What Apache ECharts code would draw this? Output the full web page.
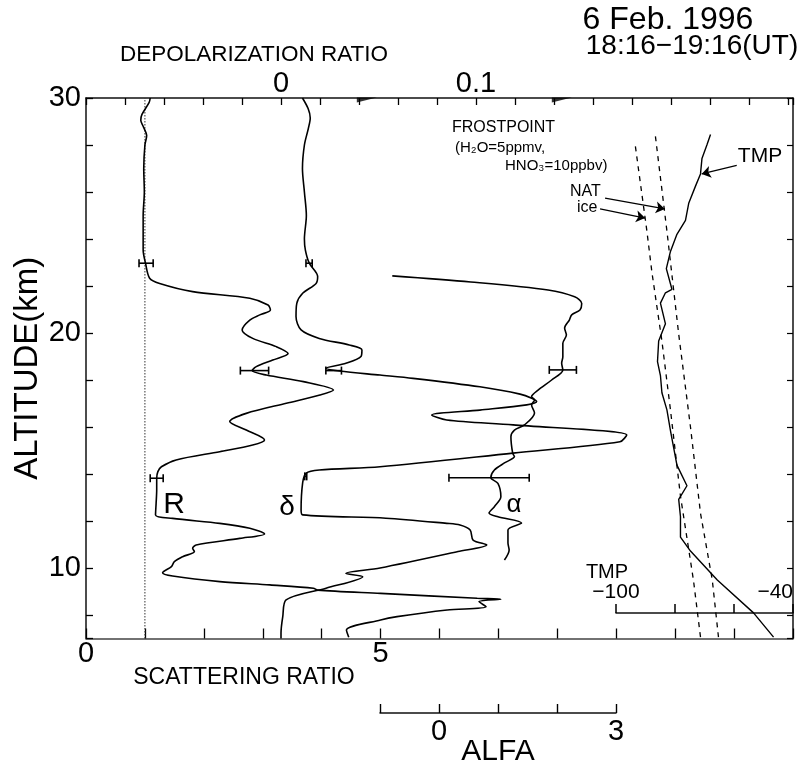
<!DOCTYPE html>
<html><head><meta charset="utf-8">
<script src="https://cdn.jsdelivr.net/npm/echarts@6/dist/echarts.min.js"></script>
<style>html,body{margin:0;padding:0;background:#fff}#chart{width:798px;height:767px}</style>
</head><body><div id="chart"></div>
<script>
const FONT = '"Liberation Sans", Arial, Helvetica, sans-serif';

// ---- axis ranges / tick labels ----
const altRange = [7, 30];
const altLabels = [10, 20, 30];
const srRange = [0, 12];
const srLabels = [0, 5];
const depolRange = [-0.1, 0.26256];
const depolLabels = [0, 0.1];
const alfaHiddenRange = [-5.98, 6.0];
const alfaRange = [-1, 3];
const alfaLabels = [0, 3];
const tmpHiddenRange = [-280, -40];
const tmpRange = [-100, -40];
const tmpLabels = [-100, -40];
const srReference = 1;

// ---- profiles: [value, altitude km] ----
const scatteringRatio = [
  [1.09,30.0],[1.07,29.8],[0.95,29.3],[0.93,29.05],[0.97,28.8],[1.03,28.4],[1.00,28.0],[0.98,27.0],
  [0.99,26.0],[0.97,25.0],[0.97,24.0],[0.97,23.53],[1.01,22.97],[1.08,22.33],[1.25,22.11],[1.81,21.76],
  [2.78,21.48],[3.09,21.19],[3.13,20.98],[2.95,20.77],[2.78,20.55],[2.65,20.13],[2.83,19.77],[3.23,19.42],
  [3.43,19.13],[3.17,18.85],[2.89,18.57],[2.82,18.40],[3.06,18.21],[3.69,17.93],[4.20,17.57],[3.97,17.36],
  [3.40,17.01],[2.72,16.58],[2.44,16.23],[2.72,15.87],[3.03,15.45],[2.83,15.23],[2.27,14.95],[1.53,14.60],
  [1.28,14.31],[1.22,14.10],[1.20,13.82],[1.20,13.32],[1.19,12.75],[1.18,12.26],[1.47,12.11],[2.27,11.90],
  [2.78,11.69],[3.03,11.45],[2.61,11.26],[1.87,10.98],[1.81,10.84],[1.84,10.70],[1.64,10.48],[1.50,10.27],
  [1.45,10.06],[1.30,9.80],[1.47,9.66],[2.27,9.42],[3.12,9.28],[3.86,9.14],[3.93,9.06],[5.0,8.92],
  [6.64,8.71],[7.04,8.67],[6.67,8.57],[6.79,8.35],[6.13,8.21],[5.28,7.93],[5.0,7.79],[4.42,7.36],[4.46,7.05]
];
const depolarization = [
  [0.011,30.0],[0.0139,29.55],[0.015,29.15],[0.014,28.7],[0.012,28.0],[0.011,27.0],[0.012,26.0],[0.013,25.0],
  [0.012,24.0],[0.0125,23.53],[0.0145,22.97],[0.0188,22.40],[0.018,22.11],[0.0111,21.69],[0.0081,21.26],
  [0.0077,20.70],[0.0103,20.13],[0.0196,19.77],[0.035,19.49],[0.0415,19.28],[0.041,19.00],[0.0333,18.71],
  [0.0231,18.50],[0.030,18.38],[0.0508,18.21],[0.0677,18.07],[0.102,17.71],[0.1226,17.40],[0.1286,17.22],
  [0.1311,17.08],[0.126,16.94],[0.102,16.72],[0.0773,16.51],[0.085,16.30],[0.119,16.09],[0.1773,15.66],
  [0.1738,15.37],[0.119,14.89],[0.0508,14.31],[0.0196,14.17],[0.0128,14.03],[0.0111,13.62],[0.0103,12.47],
  [0.0111,12.26],[0.0538,12.12],[0.085,11.90],[0.0918,11.83],[0.097,11.62],[0.0985,11.19],[0.1055,10.98],
  [0.0908,10.70],[0.0508,10.0],[0.0333,9.77],[0.0419,9.63],[0.0231,9.14],[0.0026,8.64],[0.0009,7.93],
  [0.0,7.23],[0.0,7.0]
];
const alfa = [
  [-0.79,22.43],[0.54,22.17],[1.85,21.83],[2.30,21.54],[2.42,21.26],[2.39,20.98],[2.25,20.77],[2.21,20.55],
  [2.13,20.21],[2.16,19.91],[2.10,19.56],[2.10,18.99],[2.08,18.71],[2.10,18.43],[1.91,18.0],[1.68,17.57],
  [1.57,17.29],[1.62,17.15],[1.57,16.94],[1.62,16.60],[1.45,16.09],[1.28,15.87],[1.22,15.59],[1.25,14.89],
  [1.28,14.74],[1.11,14.47],[0.94,14.17],[0.88,13.84],[1.00,13.60],[1.05,13.03],[0.94,12.61],[0.85,12.34],
  [1.00,12.18],[1.40,11.91],[1.17,11.62],[1.17,11.06],[1.19,10.77],[1.11,10.34]
];
const temperature = [
  [-68.0,28.45],[-69.2,28.01],[-70.9,27.43],[-71.4,26.77],[-73.1,26.25],[-75.4,25.52],[-76.5,24.79],
  [-79.4,24.20],[-81.6,23.47],[-83.0,22.74],[-81.1,21.86],[-83.3,21.71],[-85.0,21.27],[-83.3,20.39],
  [-85.6,19.66],[-86.0,18.78],[-85.0,18.19],[-84.5,17.46],[-82.8,16.73],[-81.6,15.85],[-80.5,15.11],
  [-79.4,14.38],[-76.0,13.50],[-78.8,12.92],[-78.2,12.18],[-78.2,11.31],[-74.8,10.72],[-65.7,9.49],
  [-53.4,8.09],[-46.6,7.06]
];
const frostIce = [[-93.5,27.94],[-89.6,24.34],[-87.9,22.59],[-84.5,19.66],[-81.6,16.73],[-78.2,13.06],[-73.8,9.49],[-71.4,7.06]];
const frostNAT = [[-86.7,28.37],[-82.8,24.34],[-78.8,19.95],[-74.8,16.0],[-71.4,12.33],[-67.4,9.49],[-65.3,7.06]];

// ---- error bars: [low, high, altitude] ----
const errR = [[0.90,1.14,22.97],[2.62,3.10,18.40],[1.09,1.31,13.82]];
const errDepol = [[0.0128,0.0160,22.97],[0.023,0.031,18.40],[0.0122,0.0132,13.90]];
const errAlfa = [[1.87,2.33,18.43],[0.17,1.53,13.84]];

// ---- annotation arrows (TMP axis units, altitude) ----
const arrowNotes = [
  [[-103.8,25.74],[-83.5,25.28]],
  [[-105.5,25.28],[-90.2,24.89]],
  [[-59.1,27.13],[-71.0,26.77]]
];
// markers on top axis (depolarization units)
const topMarkers = [[0.044,29.92],[0.144,29.92]];

function pickLabel(list, fmt) {
  return function (v) {
    for (const t of list) if (Math.abs(v - t) < 1e-6) return fmt ? fmt(t) : String(t);
    return '';
  };
}
function errorBar(params, api) {
  const y = api.value(2);
  const a = api.coord([api.value(0), y]);
  const b = api.coord([api.value(1), y]);
  const cap = 4;
  const st = { stroke: '#000', lineWidth: 1.6 };
  return { type: 'group', children: [
    { type: 'line', shape: { x1: a[0], y1: a[1], x2: b[0], y2: b[1] }, style: st },
    { type: 'line', shape: { x1: a[0], y1: a[1] - cap, x2: a[0], y2: a[1] + cap }, style: st },
    { type: 'line', shape: { x1: b[0], y1: b[1] - cap, x2: b[0], y2: b[1] + cap }, style: st }
  ]};
}
const axLine = { show: true, onZero: false, lineStyle: { color: '#111', width: 1.5 } };
const lbl = (extra) => Object.assign({ color: '#000', fontFamily: FONT, fontSize: 29 }, extra);
const line = (w) => ({ color: '#000', width: w || 1.4 });

function txt(x, y, text, size, align, extra) {
  return Object.assign({ type: 'text', x: x, y: y, silent: true, style: {
    text: text, fontSize: size, fontFamily: FONT, fill: '#000',
    textAlign: align || 'center', align: align || 'center',
    textVerticalAlign: 'middle', verticalAlign: 'middle' } }, extra || {});
}

const chart = echarts.init(document.getElementById('chart'), null, { renderer: 'canvas' });
chart.setOption({
  animation: false,
  backgroundColor: '#fff',
  textStyle: { fontFamily: FONT },
  grid: [
    { left: 86, top: 98, width: 707, height: 540.5, outerBoundsMode: 'none', containLabel: false },
    { left: 380, top: 700, width: 236, height: 13, outerBoundsMode: 'none', containLabel: false },
    { left: 616, top: 613, width: 177, height: 10, outerBoundsMode: 'none', containLabel: false }
  ],
  xAxis: [
    { gridIndex: 0, type: 'value', position: 'bottom', min: srRange[0], max: srRange[1], interval: 1,
      axisLine: { show: true, onZero: false, lineStyle: { color: '#444', width: 1.5 } },
      axisTick: { show: true, inside: true, length: 10, lineStyle: line(1.3) },
      axisLabel: lbl({ margin: 1, formatter: pickLabel(srLabels) }), splitLine: { show: false } },
    { gridIndex: 0, type: 'value', position: 'top', min: depolRange[0], max: depolRange[1], interval: 0.02,
      axisLine: axLine, axisTick: { show: true, inside: true, length: 7, lineStyle: line(1.3) },
      axisLabel: lbl({ margin: 0, formatter: pickLabel(depolLabels) }), splitLine: { show: false } },
    { gridIndex: 0, type: 'value', position: 'bottom', min: alfaHiddenRange[0], max: alfaHiddenRange[1], show: false },
    { gridIndex: 0, type: 'value', position: 'top', min: tmpHiddenRange[0], max: tmpHiddenRange[1], show: false },
    { gridIndex: 1, type: 'value', position: 'bottom', min: alfaRange[0], max: alfaRange[1], interval: 1,
      axisLine: axLine, axisTick: { show: true, inside: true, length: 9, lineStyle: line(1.4) },
      axisLabel: lbl({ margin: 4, formatter: pickLabel(alfaLabels) }), splitLine: { show: false } },
    { gridIndex: 2, type: 'value', position: 'top', min: tmpRange[0], max: tmpRange[1], interval: 20,
      axisLine: axLine, axisTick: { show: true, inside: false, length: 9, lineStyle: line(1.5) },
      axisLabel: lbl({ margin: 10, fontSize: 21, alignMaxLabel: 'right',
        formatter: pickLabel(tmpLabels, t => String(t).replace('-', '\u2212')) }), splitLine: { show: false } }
  ],
  yAxis: [
    { gridIndex: 0, type: 'value', position: 'left', min: altRange[0], max: altRange[1], minInterval: 2, maxInterval: 2,
      axisLine: axLine, axisTick: { show: true, inside: true, length: 7, lineStyle: line(1.3) },
      axisLabel: lbl({ margin: 5, formatter: pickLabel(altLabels) }), splitLine: { show: false },
      name: 'ALTITUDE(km)', nameLocation: 'middle', nameGap: 42, nameRotate: 90, nameMoveOverlap: false,
      nameTextStyle: { fontFamily: FONT, fontSize: 33, color: '#000' } },
    { gridIndex: 0, type: 'value', position: 'right', min: altRange[0], max: altRange[1], minInterval: 2, maxInterval: 2,
      axisLine: axLine, axisTick: { show: true, inside: true, length: 6, lineStyle: line(1.2) },
      axisLabel: { show: false }, splitLine: { show: false } },
    { gridIndex: 1, type: 'value', min: 0, max: 1, show: false },
    { gridIndex: 2, type: 'value', min: 0, max: 1, show: false }
  ],
  series: [
    { name: 'R=1', type: 'line', xAxisIndex: 0, yAxisIndex: 0, showSymbol: false, silent: true,
      data: [[srReference, altRange[0]], [srReference, altRange[1]]],
      lineStyle: { color: '#333', width: 1, type: [1.5, 1.5] } },
    { name: 'R', type: 'line', xAxisIndex: 0, yAxisIndex: 0, showSymbol: false, smooth: 0.3,
      data: scatteringRatio, lineStyle: line(1.6) },
    { name: 'δ', type: 'line', xAxisIndex: 1, yAxisIndex: 0, showSymbol: false, smooth: 0.3,
      data: depolarization, lineStyle: line(1.6) },
    { name: 'α', type: 'line', xAxisIndex: 2, yAxisIndex: 0, showSymbol: false, smooth: 0.3,
      data: alfa, lineStyle: line(1.6) },
    { name: 'TMP', type: 'line', xAxisIndex: 3, yAxisIndex: 0, showSymbol: false,
      data: temperature, lineStyle: line(1.4),
      markLine: { silent: true, symbol: ['none', 'arrow'], symbolSize: 9, label: { show: false },
        lineStyle: { color: '#000', width: 1.2, type: 'solid' },
        data: arrowNotes.map(p => [{ coord: p[0] }, { coord: p[1] }]) } },
    { name: 'ice', type: 'line', xAxisIndex: 3, yAxisIndex: 0, showSymbol: false,
      data: frostIce, lineStyle: { color: '#000', width: 1.3, type: [5, 5] } },
    { name: 'NAT', type: 'line', xAxisIndex: 3, yAxisIndex: 0, showSymbol: false,
      data: frostNAT, lineStyle: { color: '#000', width: 1.3, type: [5, 5] } },
    { type: 'custom', xAxisIndex: 0, yAxisIndex: 0, renderItem: errorBar, data: errR, encode: { x: [0, 1], y: 2 } },
    { type: 'custom', xAxisIndex: 1, yAxisIndex: 0, renderItem: errorBar, data: errDepol, encode: { x: [0, 1], y: 2 } },
    { type: 'custom', xAxisIndex: 2, yAxisIndex: 0, renderItem: errorBar, data: errAlfa, encode: { x: [0, 1], y: 2 } },
    { type: 'scatter', xAxisIndex: 1, yAxisIndex: 0, data: topMarkers, silent: true, clip: false,
      symbol: 'path://M0,0L20,0L0,5Z', symbolSize: [20, 5], itemStyle: { color: '#000' } }
  ],
  graphic: [
    txt(668, 20, '6 Feb. 1996', 32),
    txt(692, 46, '18:16\u221219:16(UT)', 28),
    txt(254, 55, 'DEPOLARIZATION RATIO', 22.5),
    txt(244, 678, 'SCATTERING RATIO', 23),
    txt(498, 752, 'ALFA', 30),
    txt(607, 572, 'TMP', 20),
    txt(760, 156, 'TMP', 21),
    txt(452, 128, 'FROSTPOINT', 16, 'left'),
    txt(455, 148, '(H\u2082O=5ppmv,', 15, 'left'),
    txt(505, 166, 'HNO\u2083=10ppbv)', 15, 'left'),
    txt(570, 192, 'NAT', 16, 'left'),
    txt(577, 208, 'ice', 16, 'left'),
    txt(174, 505, 'R', 30),
    txt(287, 507, 'δ', 28),
    txt(514, 505, 'α', 26)
  ]
});
</script>
</body></html>
